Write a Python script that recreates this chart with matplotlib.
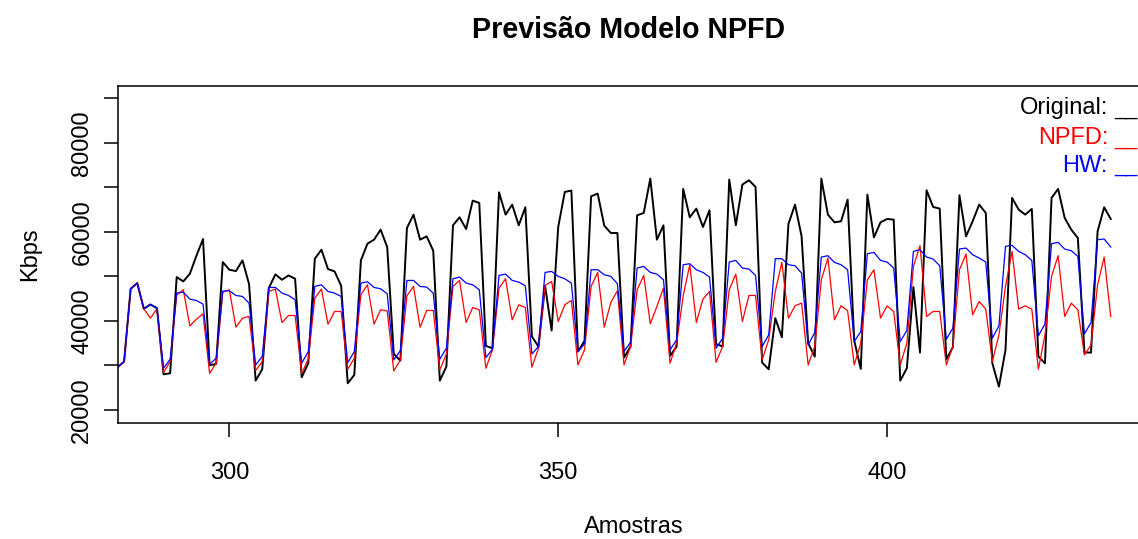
import matplotlib
matplotlib.use("Agg")
import matplotlib.pyplot as plt
import numpy as np

plt.rcParams['font.family'] = ['Liberation Sans', 'DejaVu Sans']

# -------------------------
# DATA (samples 283..434)
# -------------------------
amostras = np.arange(283, 435)

original = [
    29600, 30875, 47225, 48500, 42725, 43700, 42875,
    28025, 28250, 49850, 48875, 50600, 54650, 58400,
    30050, 30350, 53225, 51500, 51200, 53600, 48275,
    26600, 29150, 47375, 50450, 49250, 50225, 49475,
    27350, 30500, 53975, 56000, 51650, 51125, 47900,
    26000, 27875, 53600, 57350, 58250, 60500, 56600,
    32600, 31100, 60875, 63875, 58250, 59000, 55775,
    26600, 29750, 61475, 63275, 60650, 67025, 66500,
    34400, 33875, 68900, 63875, 66125, 61475, 65525,
    36500, 34250, 47900, 37850, 61100, 68975, 69275,
    33125, 35525, 68000, 68600, 61400, 59750, 59750,
    31775, 34250, 63725, 64250, 71975, 58250, 61475,
    32150, 34250, 69650, 63275, 65225, 61100, 64850,
    34850, 34250, 71750, 61475, 70625, 71600, 70100,
    30650, 29150, 40625, 36350, 61775, 66125, 59000,
    35000, 32000, 71975, 63875, 62150, 62375, 67250,
    35600, 29225, 68375, 58775, 62150, 62900, 62750,
    26600, 29375, 47600, 32900, 69350, 65600, 65225,
    31400, 34100, 68225, 59000, 62375, 66125, 64250,
    30500, 25250, 33500, 67625, 65000, 63875, 65150,
    32000, 30500, 67625, 69650, 63125, 60500, 58625,
    32900, 32900, 60125, 65525, 62900,
]

npfd = [
    29600, 30875, 47225, 48500, 42725, 40625, 42725,
    28400, 30875, 45875, 47000, 38900, 40400, 41600,
    28250, 30500, 46475, 47000, 38600, 40625, 41000,
    28850, 30875, 46625, 47150, 39650, 41225, 41225,
    28250, 31400, 45125, 47150, 39275, 42125, 42125,
    29150, 31625, 45875, 48125, 39275, 42500, 42275,
    28775, 31250, 45650, 47750, 38600, 42350, 42350,
    29000, 32600, 47750, 49100, 39650, 43025, 42500,
    29375, 33500, 47375, 49475, 40250, 43625, 43025,
    29600, 33875, 47975, 48875, 39875, 43625, 44600,
    30125, 33500, 47750, 50900, 38600, 44150, 46775,
    30125, 34250, 47000, 50225, 39350, 43250, 47375,
    30500, 35000, 45650, 52625, 39650, 44900, 46625,
    30725, 34250, 47000, 50525, 39875, 45725, 45725,
    31250, 35750, 46625, 53150, 40625, 43400, 44000,
    30125, 34250, 49250, 54125, 40250, 43400, 42275,
    30125, 35000, 49250, 51500, 40625, 43400, 42125,
    30125, 35000, 52250, 56900, 41000, 42125, 42125,
    30125, 34250, 51500, 55025, 41375, 44375, 42650,
    30875, 36875, 47750, 55625, 42650, 43400, 42650,
    29150, 36875, 50000, 54650, 41000, 44000, 42500,
    32375, 34625, 48125, 54350, 41000,
]

hw = [
    29600, 30875, 47225, 48500, 42725, 43700, 42875,
    29375, 31400, 46250, 46475, 44900, 44600, 43775,
    30275, 31625, 46700, 46775, 45725, 45500, 44000,
    30125, 32000, 47525, 47525, 46250, 45725, 44750,
    30500, 33125, 47750, 48125, 46625, 46250, 45500,
    30650, 33125, 48500, 48800, 47525, 47225, 46100,
    31250, 33350, 49100, 49100, 47750, 47600, 46250,
    31400, 33875, 49475, 49850, 48500, 48125, 47000,
    31775, 33650, 50225, 50525, 49100, 48725, 47900,
    32600, 34250, 50900, 51125, 50000, 49475, 48500,
    33125, 34850, 51500, 51500, 50375, 50000, 48350,
    33125, 35225, 51875, 52250, 50900, 50525, 49250,
    33500, 35750, 52625, 52850, 51500, 50900, 49850,
    33875, 36125, 53225, 53600, 51875, 51650, 50225,
    34250, 36875, 53975, 53975, 52625, 52400, 50750,
    34625, 37400, 54350, 54650, 53150, 52625, 51500,
    35375, 37625, 55100, 55400, 53600, 53225, 51875,
    35375, 37850, 55625, 56000, 54350, 53900, 52400,
    35900, 38375, 56150, 56375, 54875, 54125, 53225,
    36125, 38900, 56750, 56975, 55625, 54875, 53600,
    36650, 39350, 57350, 57650, 56150, 55775, 54500,
    37100, 39650, 58250, 58400, 56600,
]

x_ticks = [300, 350, 400]
y_ticks = list(range(20000, 90001, 10000))
y_labels = ["20000", "", "40000", "", "60000", "", "80000", ""]

# -------------------------
# PLOT
# -------------------------
W, H = 1138, 539
fig = plt.figure(figsize=(W / 100, H / 100), dpi=100)
ax = fig.add_axes([118.3 / W, 116.3 / H, (1141 - 118.3) / W, 337 / H])

ax.plot(amostras, original, color="black", lw=1.4)
ax.plot(amostras, npfd, color="#ff0000", lw=0.9)
ax.plot(amostras, hw, color="#0000ff", lw=0.9)

ax.set_xlim(283.12, 438.6)
ax.set_ylim(17150, 92830)
ax.set_xticks(x_ticks)
ax.set_yticks(y_ticks)
ax.set_yticklabels(y_labels, rotation=90, va="center")

for s in ax.spines.values():
    s.set_linewidth(1.1)
ax.tick_params(axis="both", length=10, width=1.1, labelsize=17)
ax.tick_params(axis="x", pad=18)
ax.tick_params(axis="y", pad=8)

fig.text(629 / W, 1 - 30 / H, "Previsão Modelo NPFD", ha="center", va="center",
         fontsize=20.6, fontweight="bold")
fig.text(634 / W, 1 - 527 / H, "Amostras", ha="center", va="center", fontsize=17)
fig.text(30 / W, 1 - 254 / H, "Kbps", ha="center", va="center", fontsize=17,
         rotation=90)

# legend, running up to the right edge like the original
leg = [("Original:", "black", 114.3), ("NPFD:", "#ff0000", 144.3), ("HW:", "#0000ff", 171.7)]
for txt, col, yb in leg:
    fig.text(1108 / W, 1 - yb / H, txt, ha="right", va="baseline", fontsize=17, color=col)
    fig.text(1114 / W, 1 - yb / H, "__", ha="left", va="baseline", fontsize=15, color=col)

fig.savefig("out.png", dpi=100)
